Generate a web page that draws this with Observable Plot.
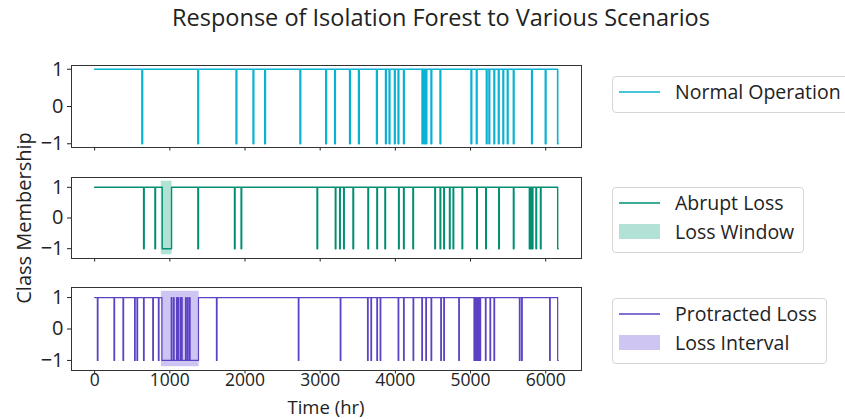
<!DOCTYPE html>
<html>
<head>
<meta charset="utf-8">
<script src="https://cdn.jsdelivr.net/npm/d3@7"></script>
<script src="https://cdn.jsdelivr.net/npm/@observablehq/plot@0.6"></script>
<style>
  html, body { margin: 0; padding: 0; background: #fff; }
  #fig { position: relative; width: 845px; height: 419px; overflow: hidden; font-family: "Open Sans", sans-serif; color: #222; }
  .abs { position: absolute; }
  .title { font-size: 23.5px; left: 0; width: 882px; text-align: center; top: 0px; line-height: 34px; }
  .ylab { font-size: 20px; left: 23px; top: 218px; transform: translate(-50%, -50%) rotate(-90deg); white-space: nowrap; }
  .xlab { font-size: 18.5px; left: 326px; top: 397px; line-height: 20px; transform: translateX(-50%); white-space: nowrap; }
  .legend { border: 1px solid #d6d6d6; border-radius: 4px; background: #fff; padding: 0px 9px 6px 6px; }
  .row { display: flex; align-items: center; height: 29px; font-size: 19.5px; white-space: nowrap; }
  .sw { width: 41px; margin-right: 15px; flex: none; display: block; }
  .swpatch { height: 15px; }
  svg { overflow: visible; }
</style>
</head>
<body>
<div id="fig"></div>
<script>
// ---------- data ----------
const timeEnd = 6167;          // last sample (hr)
const sampleStep = 8;          // width of a single flagged sample (hr)
const xTicks = [0, 1000, 2000, 3000, 4000, 5000, 6000];
const yTicks = [-1, 0, 1];

// Normal Operation: times (hr) of samples flagged as anomalies (-1)
const normalSpikes = [629, 1373, 1882, 2108, 2263, 2732, 3075, 3193, 3392, 3511, 3750, 3870, 3918,
  3989, 4037, 4109, 4356, 4383, 4409, 4475, 4595, 5007, 5078, 5211, 5246, 5312, 5371, 5432, 5490,
  5570, 5813, 5995];

// Abrupt Loss
const abruptSpikes = [651, 802, 1373, 1860, 1948, 2958, 3201, 3259, 3312, 3436, 3635, 3754, 3861,
  4043, 4109, 4233, 4525, 4595, 4644, 4720, 4768, 4887, 5082, 5202, 5375, 5570, 5782, 5795, 5808,
  5822, 5870, 5930];
const abruptDown = [[899, 1023]];      // sustained -1 stretch
const lossWindow = [886, 1030];         // shaded window

// Protracted Loss
const protractedSpikes = [36, 257, 377, 531, 563, 650, 773, 848, 1620, 2709, 3267, 3630, 3675, 3754,
  3798, 4037, 4109, 4236, 4352, 4405, 4475, 4604, 4644, 4843, 5046, 5062, 5078, 5094, 5110, 5126,
  5198, 5259, 5312, 5650, 5680, 6052];
const protractedDown = [[895, 1381]];   // sustained -1 stretch
const protractedUp = [1019, 1049, 1090, 1112, 1143, 1156, 1209, 1235, 1262]; // +1 samples inside the stretch
const lossInterval = [888, 1390];

const colors = {normal: "#08b2d2", abrupt: "#008f72", protracted: "#5b41c4"};
const shade = {abrupt: "#009e73", protracted: "#5d3fd3"};

// ---------- build step signals from the event lists ----------
function buildSignal(spikes, downs, ups) {
  const ev = [];
  spikes.forEach(t => ev.push({t, v: -1}, {t: t + sampleStep, v: 1}));
  downs.forEach(([a, b]) => {
    ev.push({t: a, v: -1});
    ups.filter(u => u > a && u < b).forEach(u => ev.push({t: u, v: 1}, {t: u + sampleStep, v: -1}));
    ev.push({t: b, v: 1});
  });
  ev.sort((p, q) => p.t - q.t);
  return [{t: 0, v: 1}, ...ev, {t: timeEnd - sampleStep, v: -1}, {t: timeEnd, v: -1}];
}

const fig = document.getElementById("fig");
function addDiv(cls, html, style) {
  const d = document.createElement("div");
  d.className = "abs " + cls;
  d.innerHTML = html;
  if (style) Object.assign(d.style, style);
  fig.appendChild(d);
  return d;
}

const xDomain = [-308, 6476];

function panel({top, data, color, lw, yDomain, span, spanColor, showX, plotH, marginBottom}) {
  const marks = [];
  if (span) marks.push(Plot.rect([span], {x1: d => d[0], x2: d => d[1], y1: -1.2, y2: 1.2, fill: spanColor, fillOpacity: 0.3}));
  marks.push(Plot.line(data, {x: "t", y: "v", curve: "step-after", stroke: color, strokeWidth: lw}));
  marks.push(Plot.axisY({ticks: yTicks, tickSize: 4, tickPadding: 4, label: null, tickFormat: d3.format("d")}));
  marks.push(Plot.axisX({ticks: xTicks, tickSize: 3.5, tickPadding: 0, label: null, fontSize: 17.5,
    tickFormat: showX ? d3.format("d") : () => ""}));
  marks.push(Plot.frame({stroke: "#333", strokeWidth: 1}));
  const p = Plot.plot({
    width: 845, height: 10 + plotH + marginBottom,
    marginLeft: 71, marginRight: 264, marginTop: 10, marginBottom,
    x: {domain: xDomain},
    y: {domain: yDomain},
    style: {fontFamily: "Open Sans", fontSize: "20px", color: "#222", background: "transparent"},
    marks
  });
  p.style.position = "absolute";
  p.style.left = "0px";
  p.style.top = (top - 10) + "px";
  fig.appendChild(p);
}

panel({top: 65, plotH: 82, marginBottom: 12, data: buildSignal(normalSpikes, [], []), color: colors.normal, lw: 1.6,
  yDomain: [-1.1, 1.1], showX: false});
panel({top: 177, plotH: 81, marginBottom: 12, data: buildSignal(abruptSpikes, abruptDown, []), color: colors.abrupt, lw: 1.4,
  yDomain: [-1.32, 1.32], span: lossWindow, spanColor: shade.abrupt, showX: false});
panel({top: 287, plotH: 83, marginBottom: 24, data: buildSignal(protractedSpikes, protractedDown, protractedUp), color: colors.protracted, lw: 1.2,
  yDomain: [-1.32, 1.32], span: lossInterval, spanColor: shade.protracted, showX: true});

addDiv("title", "Response of Isolation Forest to Various Scenarios");
addDiv("ylab", "Class Membership");
addDiv("xlab", "Time (hr)");

function legend(top, items) {
  const rows = items.map(it => it.type === "line"
    ? `<div class="row"><svg class="sw" width="41" height="6" viewBox="0 0 41 6"><line x1="0" x2="41" y1="3" y2="3" stroke="${it.color}" stroke-width="1.5"/></svg>${it.label}</div>`
    : `<div class="row"><div class="sw swpatch" style="background:${it.color};opacity:0.3"></div>${it.label}</div>`).join("");
  addDiv("legend", rows, {left: "612px", top: top + "px"});
}
legend(76, [{type: "line", color: colors.normal, label: "Normal Operation"}]);
legend(187, [{type: "line", color: colors.abrupt, label: "Abrupt Loss"}, {type: "patch", color: shade.abrupt, label: "Loss Window"}]);
legend(298, [{type: "line", color: colors.protracted, label: "Protracted Loss"}, {type: "patch", color: shade.protracted, label: "Loss Interval"}]);
</script>
</body>
</html>
